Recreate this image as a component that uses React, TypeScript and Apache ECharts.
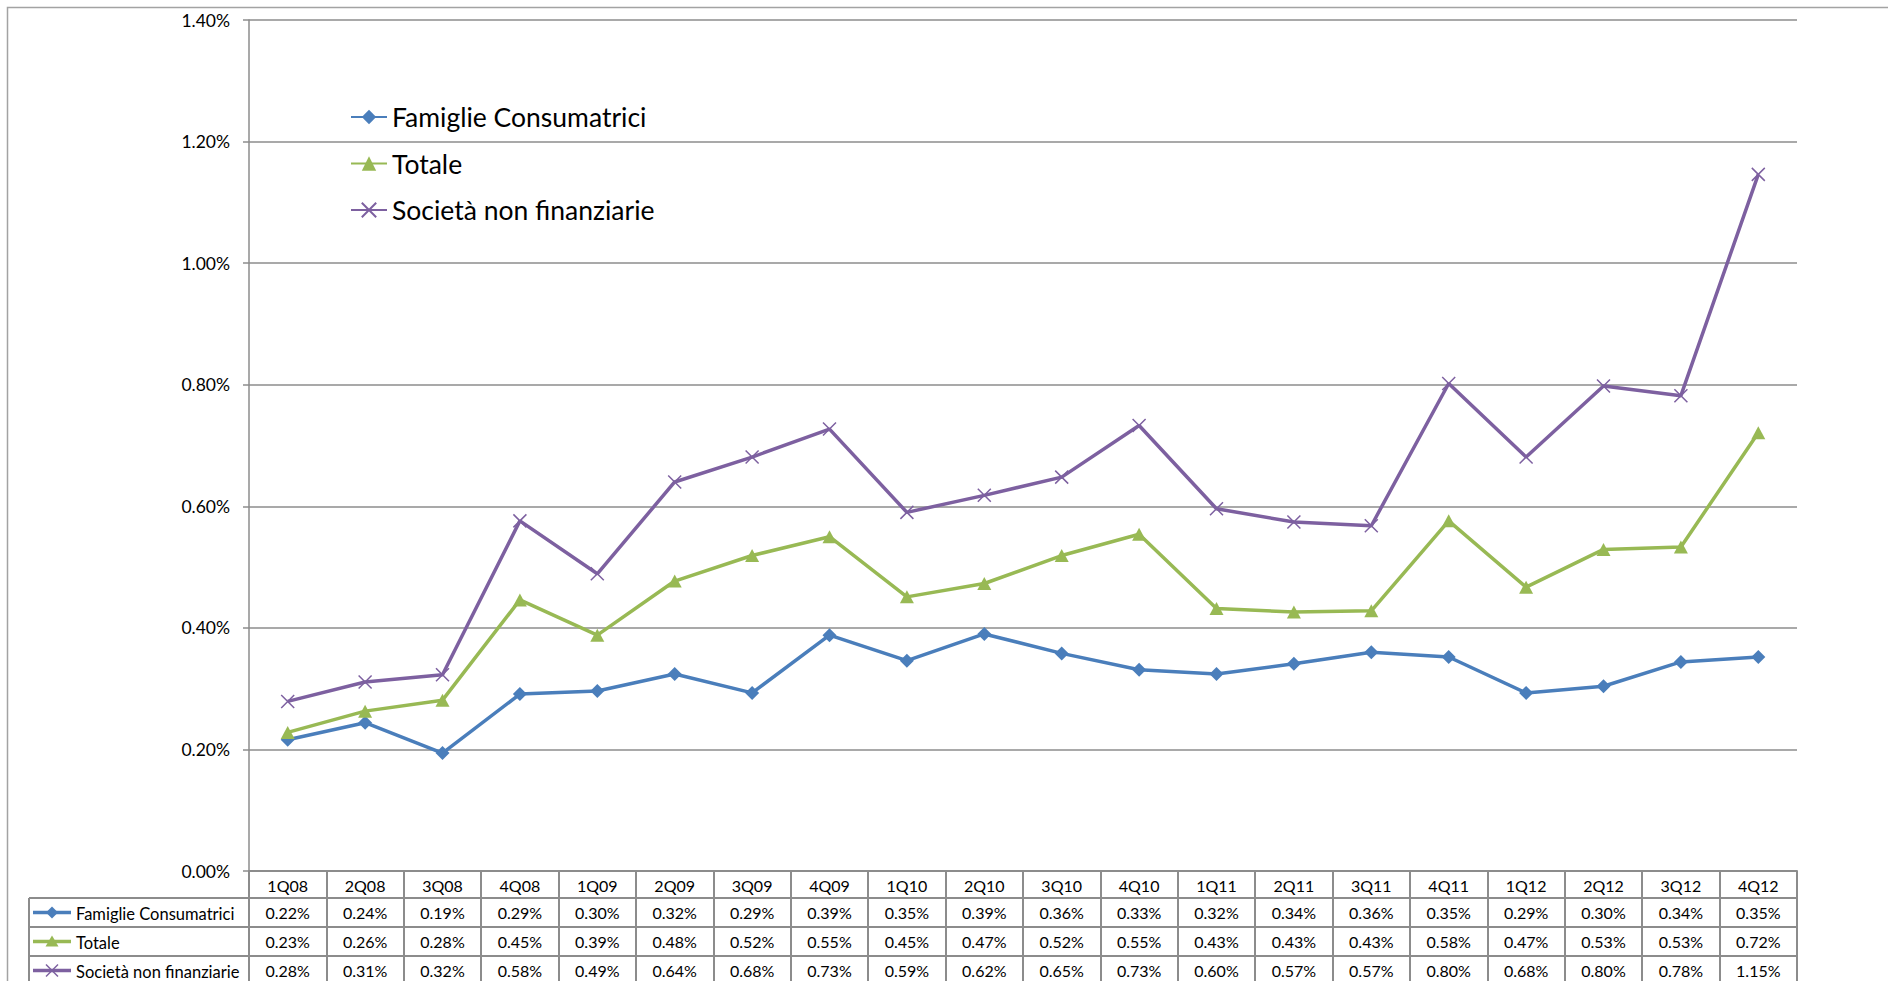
import React, { useEffect, useRef } from "react";
import * as echarts from "echarts";

const categories = [
  "1Q08", "2Q08", "3Q08", "4Q08", "1Q09", "2Q09", "3Q09", "4Q09", "1Q10", "2Q10",
  "3Q10", "4Q10", "1Q11", "2Q11", "3Q11", "4Q11", "1Q12", "2Q12", "3Q12", "4Q12",
];
const famiglie = [
  0.216, 0.244, 0.194, 0.291, 0.296, 0.324, 0.293, 0.388, 0.346, 0.39,
  0.358, 0.331, 0.324, 0.341, 0.36, 0.352, 0.293, 0.304, 0.344, 0.352,
];
const totale = [
  0.228, 0.263, 0.281, 0.446, 0.388, 0.477, 0.519, 0.55, 0.451, 0.473,
  0.519, 0.554, 0.432, 0.426, 0.428, 0.576, 0.467, 0.529, 0.533, 0.721,
];
const societa = [
  0.279, 0.311, 0.323, 0.576, 0.489, 0.64, 0.681, 0.727, 0.59, 0.618,
  0.648, 0.733, 0.596, 0.574, 0.568, 0.802, 0.681, 0.798, 0.782, 1.146,
];
const seriesNames = ["Famiglie Consumatrici", "Totale", "Società non finanziarie"];
const yTicks = { min: 0, max: 1.4, interval: 0.2 };

const BLUE = "#4A7EBB";
const GREEN = "#98B954";
const PURPLE = "#7D60A0";
const GRAY = "#8c8c8c";
const FONT = "Lato";

const fmt = (v: number) => v.toFixed(2) + "%";

export default function App() {
  const ref = useRef<HTMLDivElement>(null);

  useEffect(() => {
    if (!ref.current) return;
    const chart = echarts.init(ref.current, null, { renderer: "svg" });

    const gridLeft = 249;
    const gridRight = 1797;
    const axisY = 871;
    const headerH = 27;
    const rowH = 29;
    const rows = [famiglie, totale, societa];
    const colors = [BLUE, GREEN, PURPLE];
    const tableFont = 16;

    const baseX = (offset: number, tickLen: number, formatter?: any) => ({
      type: "category",
      data: categories,
      boundaryGap: true,
      gridIndex: 0,
      position: "bottom",
      offset,
      axisLine: { show: true, onZero: false, lineStyle: { color: GRAY, width: 2 } },
      axisTick: { show: true, interval: 0, alignWithLabel: false, length: tickLen, lineStyle: { color: GRAY, width: 2 } },
      axisLabel: {
        interval: 0,
        color: "#000",
        fontSize: tableFont,
        fontFamily: FONT,
        margin: 6,
        ...(formatter ? { formatter } : {}),
      },
      splitLine: { show: false },
    });

    const xAxes = [baseX(0, headerH + 1)];
    rows.forEach((r, k) => {
      xAxes.push(
        baseX(headerH + k * rowH, rowH + 1, (_v: string, i: number) => fmt(r[i]))
      );
    });

    const graphics: any[] = [
      {
        type: "rect",
        silent: true,
        z: -10,
        shape: { x: 7.5, y: 7.5, width: 2000, height: 2000 },
        style: { fill: "none", stroke: "#a3a3a3", lineWidth: 1.5 },
      },
    ];
    const tableLeft = 29;
    for (let k = 0; k < 3; k++) {
      const top = axisY + headerH + k * rowH;
      graphics.push({
        type: "line",
        silent: true,
        shape: { x1: tableLeft, y1: top, x2: gridLeft, y2: top },
        style: { stroke: GRAY, lineWidth: 2 },
      });
    }
    graphics.push({
      type: "line",
      silent: true,
      shape: { x1: tableLeft, y1: axisY + headerH, x2: tableLeft, y2: axisY + headerH + 3 * rowH },
      style: { stroke: GRAY, lineWidth: 2 },
    });
    seriesNames.forEach((name, k) => {
      const cy = axisY + headerH + k * rowH + rowH / 2;
      const c = colors[k];
      graphics.push({
        type: "line",
        silent: true,
        shape: { x1: 33, y1: cy, x2: 71, y2: cy },
        style: { stroke: c, lineWidth: 3.5 },
      });
      const mx = 52;
      if (k === 0) {
        graphics.push({
          type: "polygon",
          silent: true,
          shape: { points: [[mx, cy - 6], [mx + 6, cy], [mx, cy + 6], [mx - 6, cy]] },
          style: { fill: c },
        });
      } else if (k === 1) {
        graphics.push({
          type: "polygon",
          silent: true,
          shape: { points: [[mx, cy - 6], [mx + 6.5, cy + 5], [mx - 6.5, cy + 5]] },
          style: { fill: c },
        });
      } else {
        graphics.push({
          type: "line",
          silent: true,
          shape: { x1: mx - 6, y1: cy - 6, x2: mx + 6, y2: cy + 6 },
          style: { stroke: c, lineWidth: 1.5 },
        });
        graphics.push({
          type: "line",
          silent: true,
          shape: { x1: mx + 6, y1: cy - 6, x2: mx - 6, y2: cy + 6 },
          style: { stroke: c, lineWidth: 1.5 },
        });
      }
      graphics.push({
        type: "text",
        silent: true,
        x: 76,
        y: cy + 1,
        style: { text: name, fontSize: 16.5, fontFamily: FONT, fill: "#000", verticalAlign: "middle" },
      });
    });

    const option: any = {
      animation: false,
      backgroundColor: "#fff",
      textStyle: { fontFamily: FONT },
      grid: {
        left: gridLeft,
        right: 1888 - gridRight,
        top: 20,
        bottom: 981 - axisY,
        containLabel: false,
        outerBoundsMode: "none",
      },
      legend: {
        orient: "vertical",
        left: 350,
        top: 102,
        padding: 0,
        itemWidth: 36,
        itemHeight: 18,
        itemGap: 16.5,
        textStyle: { fontSize: 26.5, fontFamily: FONT, color: "#000", lineHeight: 30 },
        data: seriesNames,
      },
      xAxis: xAxes,
      yAxis: {
        type: "value",
        min: yTicks.min,
        max: yTicks.max,
        interval: yTicks.interval,
        axisLine: { show: true, lineStyle: { color: GRAY, width: 1.5 } },
        axisTick: { show: true, length: 6, lineStyle: { color: GRAY, width: 1.5 } },
        axisLabel: {
          formatter: (v: number) => fmt(v),
          margin: 19,
          color: "#000",
          fontSize: 17.5,
          fontFamily: FONT,
        },
        splitLine: { show: true, lineStyle: { color: GRAY, width: 1.5 } },
      },
      graphic: graphics,
      series: [
        {
          name: seriesNames[0],
          type: "line",
          xAxisIndex: 0,
          data: famiglie,
          color: BLUE,
          symbol: "diamond",
          symbolSize: 14,
          lineStyle: { width: 3.5, color: BLUE },
          itemStyle: { color: BLUE },
        },
        {
          name: seriesNames[1],
          type: "line",
          xAxisIndex: 0,
          data: totale,
          color: GREEN,
          symbol: "triangle",
          symbolSize: [14, 13],
          lineStyle: { width: 3.5, color: GREEN },
          itemStyle: { color: GREEN },
        },
        {
          name: seriesNames[2],
          type: "line",
          xAxisIndex: 0,
          data: societa,
          color: PURPLE,
          symbol: "path://M0,0L10,10M10,0L0,10",
          symbolSize: 13,
          lineStyle: { width: 3.5, color: PURPLE },
          itemStyle: { color: PURPLE, borderColor: PURPLE, borderWidth: 1.5 },
        },
      ],
    };

    chart.setOption(option);
    return () => chart.dispose();
  }, []);

  return (
    <div
      ref={ref}
      style={{ position: "fixed", left: 0, top: 0, width: 1888, height: 981, background: "#fff" }}
    />
  );
}
